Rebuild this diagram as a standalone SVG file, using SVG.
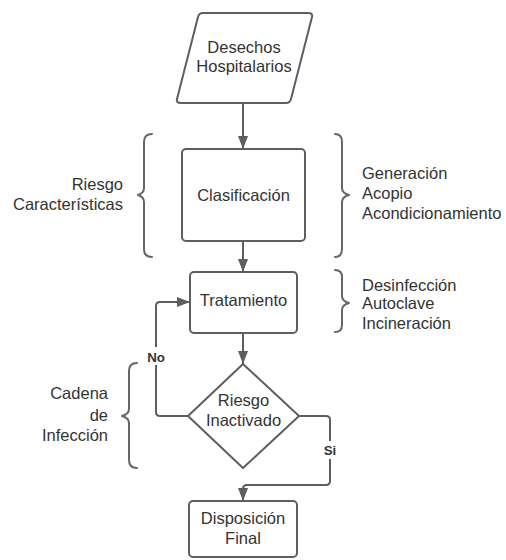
<svg xmlns="http://www.w3.org/2000/svg" width="506" height="560" viewBox="0 0 506 560">
<defs>
<marker id="arr" markerUnits="userSpaceOnUse" markerWidth="14" markerHeight="12" refX="13" refY="6" orient="auto">
<path d="M0,1 L13,6 L0,11 Z" fill="#5e5e5e"/>
</marker>
<style>
.shape{fill:#fff;stroke:#5e5e5e;stroke-width:2;}
.brace{fill:none;stroke:#666;stroke-width:2;stroke-linejoin:round;stroke-linecap:round;}
.edge{fill:none;stroke:#5e5e5e;stroke-width:2;stroke-linejoin:round;}
text{font-family:"Liberation Sans",Arial,sans-serif;font-size:16.5px;fill:#333;}
.c{text-anchor:middle;}
.r{text-anchor:end;}
.lbl{font-size:13.3px;font-weight:bold;text-anchor:middle;}
</style>
</defs>
<rect width="506" height="560" fill="#fff"/>
<g id="connectors">
<path class="edge" d="M243,103 V149" marker-end="url(#arr)"/>
<path class="edge" d="M243,241 V272" marker-end="url(#arr)"/>
<path class="edge" d="M243,333 V364" marker-end="url(#arr)"/>
<path class="edge" d="M188,416 H160 Q156,416 156,412 V306 Q156,302 160,302 H190" marker-end="url(#arr)"/>
<path class="edge" d="M299,416 H326 Q330,416 330,420 V481 Q330,485 326,485 H247 Q243,485 243,489 V501" marker-end="url(#arr)"/>
<rect x="147" y="347" width="19" height="18" fill="#fff"/>
<text class="lbl" x="156" y="361.5">No</text>
<rect x="322" y="441" width="17" height="18" fill="#fff"/>
<text class="lbl" x="330" y="455">Si</text>
</g>
<g id="desechos">
<path class="shape" d="M203,13 H308 Q313,13 312,17 L291,99 Q290,103 286,103 H181 Q176,103 177,99 L198,17 Q199,13 203,13 Z"/>
<text class="c" x="244" y="53">Desechos</text>
<text class="c" x="244" y="72">Hospitalarios</text>
</g>
<g id="clasificacion">
<rect class="shape" x="182" y="149" width="123" height="92" rx="4"/>
<text class="c" x="243.5" y="201">Clasificación</text>
</g>
<g id="brace-riesgo">
<path class="brace" d="M152,134 Q144,134 144,142 V188 Q144,193 138,195 Q144,197 144,202 V249 Q144,257 152,257"/>
<text class="r" x="123" y="190">Riesgo</text>
<text class="r" x="123" y="210">Características</text>
</g>
<g id="brace-generacion">
<path class="brace" d="M335,134 Q342,134 342,142 V188 Q342,193 349,195 Q342,197 342,202 V249 Q342,257 335,257"/>
<text x="362" y="179">Generación</text>
<text x="362" y="199">Acopio</text>
<text x="362" y="219">Acondicionamiento</text>
</g>
<g id="tratamiento">
<rect class="shape" x="190" y="272" width="107" height="61" rx="4"/>
<text class="c" x="243.5" y="306">Tratamiento</text>
</g>
<g id="brace-tratamiento">
<path class="brace" d="M335,270 Q342,270 342,277 V296 Q342,301 349,303 Q342,305 342,310 V325 Q342,332 335,332"/>
<text x="362" y="291">Desinfección</text>
<text x="362" y="309">Autoclave</text>
<text x="362" y="329">Incineración</text>
</g>
<g id="riesgo-inactivado">
<path class="shape" d="M243,364 L299,416 L243,468 L188,416 Z" stroke-linejoin="round"/>
<text class="c" x="243.5" y="406">Riesgo</text>
<text class="c" x="243.5" y="426">Inactivado</text>
</g>
<g id="brace-cadena">
<path class="brace" d="M137,363 Q129,363 129,371 V409 Q129,414 122,416 Q129,418 129,423 V460 Q129,468 137,468"/>
<text class="r" x="108" y="399">Cadena</text>
<text class="r" x="108" y="421">de</text>
<text class="r" x="108" y="441">Infección</text>
</g>
<g id="disposicion">
<rect class="shape" x="189" y="501" width="108" height="56" rx="4"/>
<text class="c" x="243" y="524">Disposición</text>
<text class="c" x="243" y="544">Final</text>
</g>
</svg>
